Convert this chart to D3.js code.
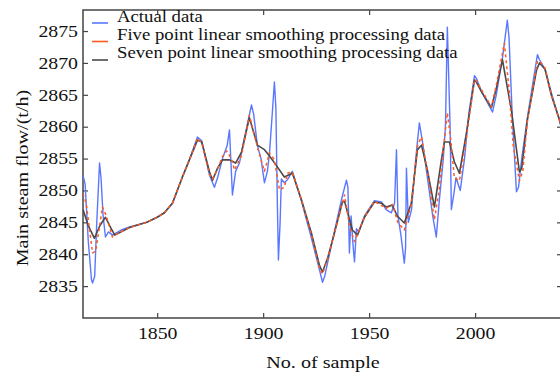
<!DOCTYPE html>
<html>
<head>
<meta charset="utf-8">
<script src="https://cdn.jsdelivr.net/npm/d3@7"></script>
<style>
  html, body { margin:0; padding:0; background:#fff; }
  svg { display:block; }
  svg text { font-family: "Liberation Serif", "Times New Roman", Times, serif; }
</style>
</head>
<body>
<div id="chart"></div>
<script>
// ---- data (sample no. / main steam flow, t/h) ----
const actualX = [1815,1816,1817.5,1819,1819.5,1820.5,1821.5,1822.8,1823.5,1824.5,1825.6,1827,1829,1830.5,1833,
  1837,1845,1850,1853.4,1857.2,1861.9,1865.2,1869,1871,1874.7,1877,1878.5,1880.8,1883,1884.1,1885.5,1887,1888.8,
  1891,1894.5,1895.5,1897.3,1899,1900.6,1902,1903,1904.5,1905.3,1906,1906.7,1907.2,1908,1908.6,1910,1911.5,1913.8,
  1918.1,1922.8,1926.6,1928,1929,1933.6,1936.9,1939.3,1940,1940.7,1941.5,1942.5,1943.1,1944,1945,1947.8,1952.5,
  1955.8,1958,1960.5,1962,1962.9,1963.6,1965,1966.6,1967.2,1967.6,1968.5,1970,1972,1973.7,1975,1977.5,1980,1981.7,
  1983,1985,1986,1986.9,1988.2,1988.8,1990,1991,1993,1995,1997,1999.7,2000.6,2003,2008.2,2010,2013,2015.2,2016,
  2017.5,2019.5,2020.5,2022,2024.7,2029.4,2030.4,2033,2036,2039.8,2041];
const actualY = [2852.4,2851,2842,2836,2835.5,2836.5,2845,2854.3,2852,2846,2842.7,2843.5,2843,2843.3,2843.8,
  2844.3,2845,2845.8,2846.5,2848,2852.1,2854.8,2858.4,2857.8,2852.4,2850.5,2852,2855,2857,2859.5,2849.3,2853,2854.3,
  2858,2863.4,2862,2857,2855,2851.2,2853,2855.9,2863,2867,2863,2848,2839.1,2845,2851.8,2851.2,2851.7,2853,
  2848.3,2842.5,2837.5,2835.6,2836.5,2843.5,2848.5,2851.6,2850.5,2840.2,2846,2841,2838.8,2844,2843.5,2846,2848.4,
  2848.2,2847,2846.5,2848,2856.4,2846,2843,2838.6,2841,2853.5,2845,2847,2855,2860.6,2858,2852,2846,2842.7,
  2848,2855,2860,2875.6,2860,2847,2849.5,2852,2850,2855,2862,2868,2867.6,2865.5,2862.3,2865,2871,2876.7,2874,
  2862,2849.8,2850.5,2855,2861.5,2871.3,2870.5,2869,2865.3,2861,2859.5];

const fiveX = [1815,1816.5,1819.5,1821,1824.2,1826,1828.9,1831,1837,1845,1850,1853.4,1857.2,1861.9,1865.2,1869,
  1871,1874.7,1876.1,1878,1880.8,1882.8,1885,1886.5,1889.8,1893.5,1897.3,1900.6,1903,1905.3,1907.7,1910,1911.5,
  1913.8,1918.1,1922.8,1926.6,1928,1930.5,1933.6,1938.4,1941,1943.1,1945,1947.8,1952.5,1958,1961,1963.5,1966.6,
  1969.9,1972.8,1974.7,1977.5,1980.8,1983,1985.5,1986.9,1988.5,1990.2,1992.6,1996,1999.7,2000.6,2003,2007.7,2010,
  2013.8,2016,2018,2020.9,2022.5,2024.7,2029.4,2030.4,2033,2036,2039.8,2041];
const fiveY = [2849.5,2848,2840.2,2840.5,2847.4,2846,2842.7,2843.2,2844.2,2845,2845.8,2846.5,2848,2852.1,2854.8,2858.2,
  2857.5,2852.5,2851.8,2853,2855.3,2856.2,2855,2853.2,2855.5,2861.8,2856.8,2853,2855.9,2854.8,2850.1,2850.5,2852.7,
  2852.9,2848.5,2843,2837.8,2836.9,2839.3,2843.3,2849.3,2844,2842,2843.5,2845.8,2848.3,2847.2,2847.8,2845,2843.8,
  2847.8,2857,2858.4,2853,2845.4,2850,2858,2862.2,2858,2852,2851.5,2858.5,2867.4,2867.2,2865.8,2863.1,2866.5,
  2873.1,2866,2857,2851.5,2853,2861,2870.2,2870.3,2869.2,2865,2861,2859.5];

const sevenX = [1815,1817.5,1820.4,1823,1825.6,1828,1830,1837,1845,1850,1853.4,1857.2,1861.9,1865.2,1869,1871,
  1874.7,1876.1,1878.5,1880.8,1884.1,1887,1889.8,1893.5,1897.3,1900.6,1903,1906.7,1910,1913.8,1918.1,1922.8,1926.6,
  1928,1930.5,1933.6,1937.4,1938.4,1942.1,1944.5,1947.8,1952.5,1955.8,1958.1,1960.9,1963.3,1966.6,1969.9,1972.8,
  1974.7,1977.5,1980.8,1984.1,1985.5,1987.9,1990.2,1992.6,1995.9,1999.7,2000.6,2003,2007.7,2010,2012.9,2017.1,
  2020.9,2022,2024.7,2029,2030.4,2033,2036,2039.8,2041];
const sevenY = [2847,2844.5,2842.5,2844.5,2845.8,2844.2,2843,2844.2,2845,2845.8,2846.5,2848,2852.1,2854.8,2857.9,2857.6,
  2852.9,2851.6,2853.5,2854.8,2854.8,2854.3,2856,2861.4,2857.1,2856.4,2855.4,2853.7,2852.1,2852.7,2848.5,2843.3,2838.2,
  2837.2,2839.5,2843.3,2848.2,2848.3,2843.8,2843,2845.8,2848.2,2848,2847.4,2847.7,2846,2844.9,2848,2856.4,
  2857.1,2853.2,2847.4,2854.8,2857.6,2857.6,2854.5,2852.7,2859,2867.3,2867,2865.5,2863,2866,2870.5,2862.6,
  2852.9,2853.5,2861.1,2868.9,2870,2869,2864.9,2861.1,2859.5];

const xTicks = [1850, 1900, 1950, 2000];
const yTicks = [2835, 2840, 2845, 2850, 2855, 2860, 2865, 2870, 2875];

const seriesNames  = ["Actual data", "Five point linear smoothing processing data", "Seven point linear smoothing processing data"];
const seriesColors = ["#5a78ff", "#ff5a22", "#4a4a4a"];

// ---- layout ----
const W = 560, H = 376;
const margin = { top:10, right:-2, bottom:58, left:83 };   // right frame sits just off the canvas

const x = d3.scaleLinear([1815, 2041], [margin.left, W - margin.right]);
const y = d3.scaleLinear([2830, 2878.3], [H - margin.bottom, margin.top]);

const svg = d3.select("#chart").append("svg")
  .attr("width", W).attr("height", H);

// the source figure's lettering is drawn wide: stretch text horizontally
function widen(sel, k = 1.2){
  sel.each(function(){
    const w = this.getComputedTextLength();
    d3.select(this).attr("textLength", w * k).attr("lengthAdjust", "spacingAndGlyphs");
  });
}

const clipId = "plot-clip";
svg.append("defs").append("clipPath").attr("id", clipId).append("rect")
  .attr("x", x.range()[0]).attr("y", y.range()[1])
  .attr("width", x.range()[1] - x.range()[0])
  .attr("height", y.range()[0] - y.range()[1]);

function tickLines(g){
  g.attr("font-family", null);
  g.select(".domain").remove();
  g.selectAll("line").attr("stroke","#444").attr("stroke-width",1.2);
}
function axisStyling(g){
  g.call(tickLines);
  g.selectAll("text").attr("fill","#111").attr("font-size",16.5).call(widen);
}

// axes, ticks pointing inward
svg.append("g").attr("transform",`translate(0,${y.range()[0]})`)
  .call(d3.axisBottom(x).tickValues(xTicks).tickFormat(d3.format("d")).tickSizeInner(-5).tickSizeOuter(0).tickPadding(9))
  .call(axisStyling);
svg.append("g").attr("transform",`translate(0,${y.range()[1]})`)
  .call(d3.axisTop(x).tickValues(xTicks).tickFormat("").tickSizeInner(-5).tickSizeOuter(0))
  .call(tickLines);
svg.append("g").attr("transform",`translate(${x.range()[0]},0)`)
  .call(d3.axisLeft(y).tickValues(yTicks).tickFormat(d3.format("d")).tickSizeInner(-5).tickSizeOuter(0).tickPadding(5))
  .call(axisStyling);
svg.append("g").attr("transform",`translate(${x.range()[1]},0)`)
  .call(d3.axisRight(y).tickValues(yTicks).tickFormat("").tickSizeInner(-5).tickSizeOuter(0))
  .call(tickLines);

// frame
svg.append("rect")
  .attr("x", x.range()[0]).attr("y", y.range()[1])
  .attr("width", x.range()[1] - x.range()[0])
  .attr("height", y.range()[0] - y.range()[1])
  .attr("fill","none").attr("stroke","#444").attr("stroke-width",1.5);

// lines
const line = d3.line().x(d => x(d[0])).y(d => y(d[1]));
const series = [
  { pts: d3.zip(actualX, actualY), color: seriesColors[0], w: 1.4, dash: null },
  { pts: d3.zip(sevenX, sevenY),   color: seriesColors[2], w: 1.6, dash: null },
  { pts: d3.zip(fiveX, fiveY),     color: seriesColors[1], w: 1.5, dash: "3,3" }
];
const lineG = svg.append("g").attr("clip-path", `url(#${clipId})`);
series.forEach(s => {
  lineG.append("path")
    .attr("d", line(s.pts))
    .attr("fill","none")
    .attr("stroke", s.color)
    .attr("stroke-width", s.w)
    .attr("stroke-linejoin","round")
    .attr("stroke-dasharray", s.dash);
});

// legend (no box)
const legend = svg.append("g").attr("font-size",16).attr("fill","#111");
seriesNames.forEach((name, i) => {
  const by = 21.5 + i * 18;
  legend.append("line")
    .attr("x1", 92).attr("x2", 108)
    .attr("y1", by + 1.5 + i * 0.5).attr("y2", by + 1.5 + i * 0.5)
    .attr("stroke", seriesColors[i]).attr("stroke-width", 1.6);
  legend.append("text").attr("x", 117).attr("y", by).text(name).call(widen, 1.17);
});

// axis titles
svg.append("text")
  .attr("x", 323).attr("y", 368)
  .attr("text-anchor","middle").attr("font-size",17.5).attr("fill","#111")
  .text("No. of sample").call(widen, 1.15);
svg.append("text")
  .attr("transform","translate(28,178) rotate(-90)")
  .attr("text-anchor","middle").attr("font-size",17.5).attr("fill","#111")
  .text("Main steam flow/(t/h)").call(widen, 1.15);
</script>
</body>
</html>
